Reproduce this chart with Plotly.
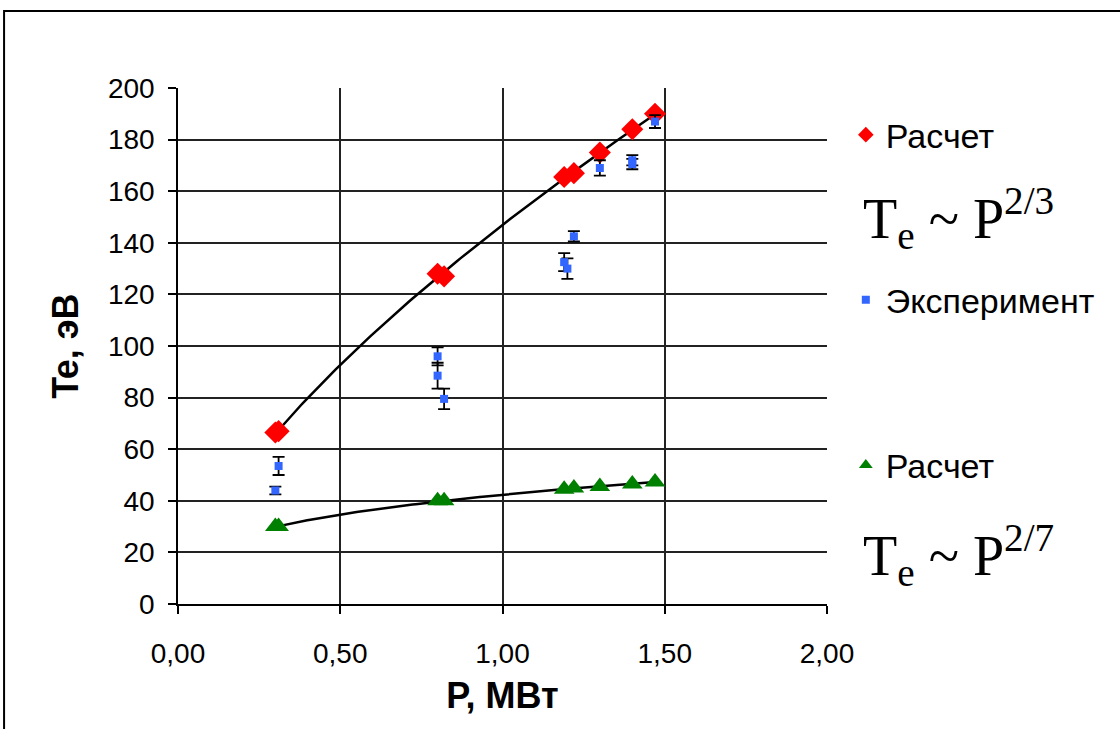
import numpy as np
import plotly.graph_objects as go

# ---- data ----
p_calc = [0.30, 0.31, 0.80, 0.82, 1.19, 1.22, 1.30, 1.40, 1.47]
te_calc_23 = [66.5, 67.0, 128.0, 127.0, 165.5, 167.0, 175.0, 184.0, 190.0]
te_calc_27 = [30.0, 30.0, 40.0, 40.0, 44.5, 45.0, 45.5, 46.5, 47.3]

p_exp = [0.31, 0.30, 0.80, 0.80, 0.82, 1.22, 1.19, 1.20, 1.30, 1.40, 1.40, 1.47]
te_exp = [53.5, 44.0, 96.0, 88.5, 79.5, 142.5, 132.5, 130.0, 169.0, 172.0, 170.5, 187.0]
te_exp_err = [3.5, 1.5, 3.5, 5.0, 4.0, 2.0, 3.5, 4.0, 3.0, 2.0, 2.0, 2.5]

x_ticks = [0, 0.5, 1.0, 1.5, 2.0]
x_tick_labels = ["0,00", "0,50", "1,00", "1,50", "2,00"]
y_ticks = list(range(0, 201, 20))

legend_names = ["Расчет", "Эксперимент", "Расчет"]
formula_23 = "T<sub>e</sub> ~ P<sup>2/3</sup>"
formula_27 = "T<sub>e</sub> ~ P<sup>2/7</sup>"

RED = "#FF0000"
BLUE = "#3366FF"
GREEN = "#008000"


def power_trendline(x, y, n=120):
    """Power-law (y = a*x^b) least-squares trendline, as in the original spreadsheet chart."""
    x = np.asarray(x, float)
    y = np.asarray(y, float)
    b, ln_a = np.polyfit(np.log(x), np.log(y), 1)
    xs = np.linspace(x.min(), x.max(), n)
    return xs, np.exp(ln_a) * xs ** b


fig = go.Figure()

for yy in (te_calc_23, te_calc_27):
    tx, ty = power_trendline(p_calc, yy)
    fig.add_trace(go.Scatter(x=tx, y=ty, mode="lines", line=dict(color="black", width=2.5),
                             showlegend=False, hoverinfo="skip"))

# data markers
fig.add_trace(go.Scatter(x=p_calc, y=te_calc_23, mode="markers", showlegend=False,
                         marker=dict(symbol="diamond", size=17, color=RED)))
fig.add_trace(go.Scatter(x=p_exp, y=te_exp, mode="markers", showlegend=False,
                         marker=dict(symbol="square", size=8, color=BLUE),
                         error_y=dict(type="data", array=te_exp_err, visible=True, color="black", thickness=1.8, width=6)))
fig.add_trace(go.Scatter(x=p_calc, y=te_calc_27, mode="markers", showlegend=False,
                         marker=dict(symbol="triangle-up", size=18, color=GREEN)))

# legend-only entries
for i, (name, sym, col, sz) in enumerate([(legend_names[0], "diamond", RED, 12),
                                          (legend_names[1], "square", BLUE, 8),
                                          (legend_names[2], "triangle-up", GREEN, 12)]):
    fig.add_trace(go.Scatter(x=[None], y=[None], mode="markers", name=name, legendgroup=f"g{i}",
                             marker=dict(symbol=sym, size=sz, color=col)))

axis_font = dict(family="Liberation Sans, Arial", size=28, color="black")
fig.update_xaxes(range=[0, 2], tickvals=x_ticks, ticktext=x_tick_labels, showgrid=True, gridcolor="#222222", gridwidth=1.5,
                 showline=True, linecolor="black", linewidth=1.5, ticks="outside", ticklen=8, tickwidth=1.5, tickcolor="black",
                 tickfont=axis_font, zeroline=False, ticklabelstandoff=16,
                 title=dict(text="<b>P, МВт</b>", font=dict(family="Liberation Sans, Arial", size=36, color="black"), standoff=14))
fig.update_yaxes(range=[0, 200], tickvals=y_ticks, showgrid=True, gridcolor="#222222", gridwidth=1.5,
                 showline=True, linecolor="black", linewidth=1.5, ticks="outside", ticklen=8, tickwidth=1.5, tickcolor="black",
                 tickfont=axis_font, zeroline=False, ticklabelstandoff=8,
                 title=dict(text="<b>Te, эВ</b>", font=dict(family="Liberation Sans, Arial", size=36, color="black"), standoff=18))

# formula annotations
fig.add_annotation(xref="paper", yref="paper", x=1.053, y=0.748, text=formula_23, showarrow=False, xanchor="left", yanchor="middle",
                   font=dict(family="Liberation Serif, Times New Roman", size=56, color="black"))
fig.add_annotation(xref="paper", yref="paper", x=1.053, y=0.095, text=formula_27, showarrow=False, xanchor="left", yanchor="middle",
                   font=dict(family="Liberation Serif, Times New Roman", size=56, color="black"))

# outer chart-area border
fig.add_shape(type="rect", xref="paper", yref="paper", x0=-0.268, x1=1.47, y0=-0.26, y1=1.149,
              line=dict(color="black", width=2), layer="below")

fig.update_layout(
    width=1120, height=729,
    margin=dict(l=178, r=293, t=88, b=125),
    plot_bgcolor="white", paper_bgcolor="white",
    legend=dict(x=1.029, y=0.965, xanchor="left", yanchor="top", traceorder="grouped", tracegroupgap=118,
                font=dict(family="Liberation Sans, Arial", size=34, color="black"), bgcolor="rgba(0,0,0,0)", itemwidth=30),
)

fig.write_html("out.html")
